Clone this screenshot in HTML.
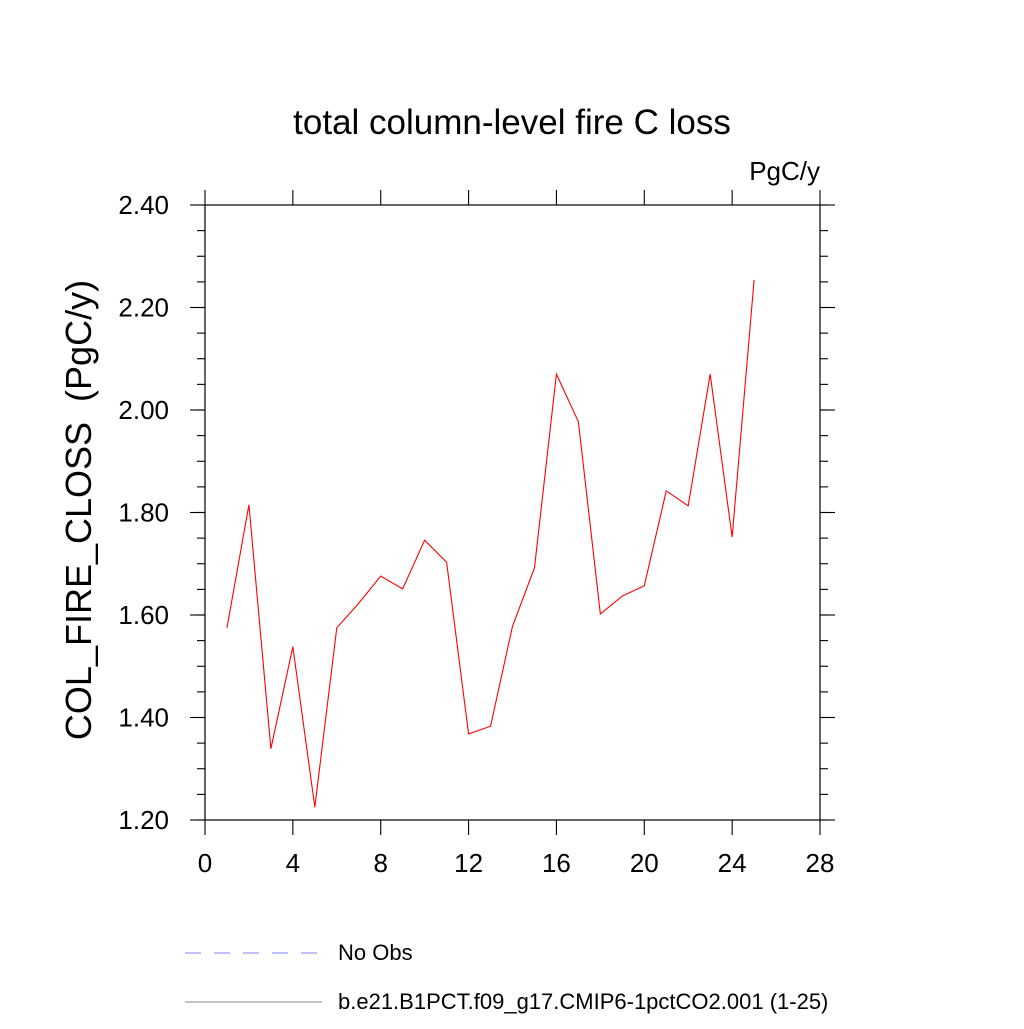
<!DOCTYPE html>
<html><head><meta charset="utf-8"><style>
html,body{margin:0;padding:0;background:#fff;}
svg text{font-family:"Liberation Sans",sans-serif;fill:#000;}
</style></head><body>
<svg id="chart" width="1024" height="1024" viewBox="0 0 1024 1024" xmlns="http://www.w3.org/2000/svg">
<rect width="1024" height="1024" fill="#fff"/>
<text x="512" y="134" font-size="35" text-anchor="middle">total column-level fire C loss</text>
<text x="820" y="180" font-size="26" text-anchor="end">PgC/y</text>
<text transform="translate(91,510) rotate(-90)" font-size="36" text-anchor="middle">COL_FIRE_CLOSS&#160;&#160;(PgC/y)</text>
<rect x="205" y="205" width="615" height="615" fill="none" stroke="#000" stroke-width="1.2"/>
<g id="axes"></g>
<polyline id="series" fill="none" stroke="#ff0000" stroke-width="1.1"/>
<line x1="185" y1="953" x2="322" y2="953" stroke="#8080ff" stroke-width="1" stroke-dasharray="16,13"/>
<text x="338" y="960" font-size="22">No Obs</text>
<line x1="185" y1="1002" x2="322" y2="1002" stroke="#888" stroke-width="1"/>
<text x="338" y="1009" font-size="22">b.e21.B1PCT.f09_g17.CMIP6-1pctCO2.001 (1-25)</text>
</svg>
<script>
const years = [1,2,3,4,5,6,7,8,9,10,11,12,13,14,15,16,17,18,19,20,21,22,23,24,25];
const values = [1.575,1.815,1.339,1.538,1.225,1.575,1.623,1.676,1.651,1.746,1.703,1.368,1.383,1.578,1.692,2.070,1.977,1.602,1.637,1.657,1.842,1.813,2.070,1.752,2.254];
const xTicks = [0,4,8,12,16,20,24,28];
const yTicks = ["1.20","1.40","1.60","1.80","2.00","2.20","2.40"];
const X0=205,X1=820,Y0=820,Y1=205,xmin=0,xmax=28,ymin=1.2,ymax=2.4;
const xs=v=>X0+(v-xmin)/(xmax-xmin)*(X1-X0);
const ys=v=>Y0-(v-ymin)/(ymax-ymin)*(Y0-Y1);
const NS="http://www.w3.org/2000/svg";
const g=document.getElementById('axes');
function ln(x1,y1,x2,y2,name){const l=document.createElementNS(NS,'line');
l.setAttribute('x1',x1);l.setAttribute('y1',y1);l.setAttribute('x2',x2);l.setAttribute('y2',y2);
l.setAttribute('stroke','#000');l.setAttribute('stroke-width','1.1');


g.appendChild(l);}
function tx(x,y,s,anchor,name){const t=document.createElementNS(NS,'text');
t.setAttribute('x',x);t.setAttribute('y',y);t.setAttribute('font-size','26');t.setAttribute('text-anchor',anchor);t.textContent=s;


g.appendChild(t);}
xTicks.forEach(v=>{const x=xs(v);ln(x,Y0,x,Y0+15,'x-tick');ln(x,Y1,x,Y1-15,'x-tick-top');tx(x,Y0+52,String(v),'middle','x-tick-label');});
yTicks.forEach(s=>{const y=ys(parseFloat(s));ln(X0,y,X0-15,y,'y-tick');ln(X1,y,X1+15,y,'y-tick-right');tx(X0-36,y+9,s,'end','y-tick-label');});
for(let v=ymin;v<=ymax+1e-9;v+=0.05){const y=ys(v);ln(X0,y,X0-8,y,'y-minor-tick');ln(X1,y,X1+8,y,'y-minor-tick-right');}
document.getElementById('series').setAttribute('points',years.map((yr,i)=>xs(yr)+','+ys(values[i])).join(' '));
</script>
</body></html>
